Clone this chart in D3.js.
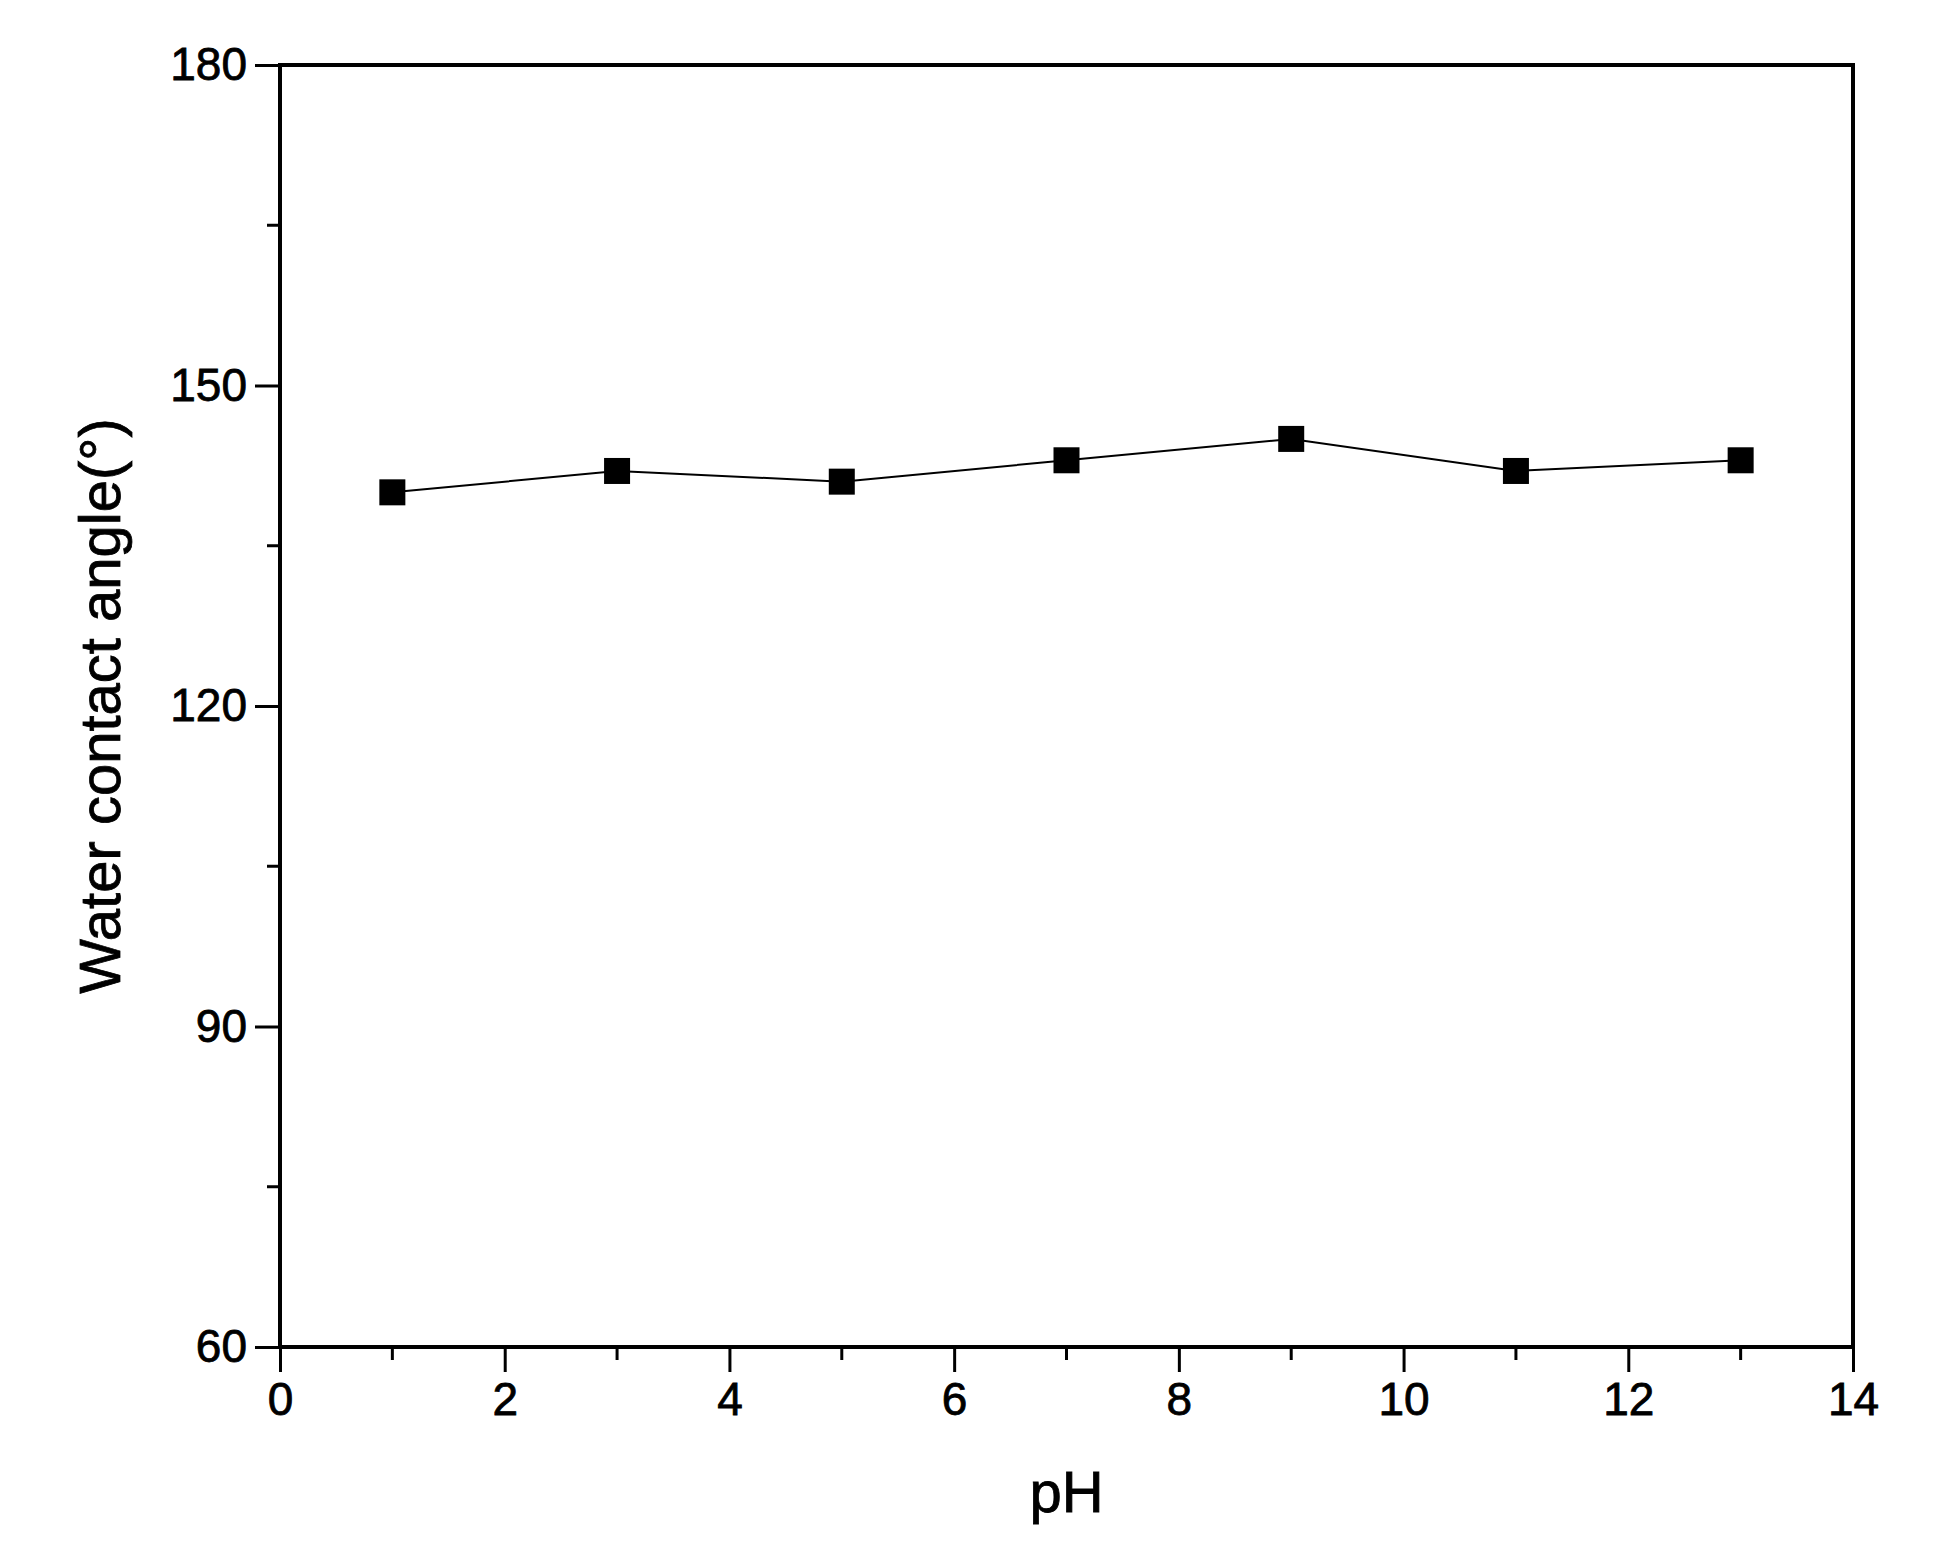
<!DOCTYPE html>
<html><head><meta charset="utf-8">
<script src="https://cdn.jsdelivr.net/npm/d3@7"></script>
<style>body{margin:0;background:#fff}</style>
</head><body>
<svg id="chart" width="1948" height="1550"></svg>
<script>
const phValues = [1, 3, 5, 7, 9, 11, 13];
const contactAngles = [140, 142, 141, 143, 145, 142, 143];
const xTicks = [0, 2, 4, 6, 8, 10, 12, 14];
const yTicks = [60, 90, 120, 150, 180];

const margin = {left: 280, right: 1948 - 1853, top: 65, bottom: 1550 - 1347};
const svg = d3.select("#chart");
const w = 1948 - margin.left - margin.right;
const h = 1550 - margin.top - margin.bottom;
const font = "Liberation Sans, Arial, sans-serif";

const x = d3.scaleLinear().domain([0, 14]).range([0, w]);
const y = d3.scaleLinear().domain([60, 180]).range([h, 0]);

const g = svg.append("g").attr("transform", `translate(${margin.left},${margin.top})`);

// minor ticks
const xMinor = d3.range(1, 14, 2);
const yMinor = d3.range(75, 180, 30);
g.append("g").selectAll("line").data(xMinor).join("line")
  .attr("x1", d => x(d)).attr("x2", d => x(d)).attr("y1", h).attr("y2", h + 13)
  .attr("stroke", "#000").attr("stroke-width", 3);
g.append("g").selectAll("line").data(yMinor).join("line")
  .attr("y1", d => y(d)).attr("y2", d => y(d)).attr("x1", 0).attr("x2", -13)
  .attr("stroke", "#000").attr("stroke-width", 3);

const xAxis = g.append("g").attr("transform", `translate(0,${h})`)
  .call(d3.axisBottom(x).tickValues(xTicks).tickSize(25).tickPadding(10));
const yAxis = g.append("g")
  .call(d3.axisLeft(y).tickValues(yTicks).tickSize(25).tickPadding(8));
[xAxis, yAxis].forEach(a => {
  a.select(".domain").remove();
  a.selectAll("line").attr("stroke", "#000").attr("stroke-width", 3);
  a.selectAll("text").attr("font-family", font).attr("font-size", 46)
    .attr("fill", "#000").attr("stroke", "#000").attr("stroke-width", 0.8);
});

// frame
g.append("rect").attr("width", w).attr("height", h)
  .attr("fill", "none").attr("stroke", "#000").attr("stroke-width", 4);

const pts = phValues.map((p, i) => [p, contactAngles[i]]);
g.append("path").datum(pts)
  .attr("d", d3.line().x(d => x(d[0])).y(d => y(d[1])))
  .attr("fill", "none").attr("stroke", "#000").attr("stroke-width", 2);
g.selectAll(".pt").data(pts).join("rect")
  .attr("x", d => x(d[0]) - 13).attr("y", d => y(d[1]) - 13)
  .attr("width", 26).attr("height", 26).attr("fill", "#000");

svg.append("text").attr("x", margin.left + w / 2).attr("y", 1512)
  .attr("text-anchor", "middle").attr("font-family", font).attr("font-size", 58)
  .attr("stroke", "#000").attr("stroke-width", 0.8)
  .text("pH");
svg.append("text")
  .attr("transform", `translate(120,${margin.top + h / 2}) rotate(-90)`)
  .attr("text-anchor", "middle").attr("font-family", font).attr("font-size", 58)
  .attr("stroke", "#000").attr("stroke-width", 0.8)
  .text("Water contact angle(°)");
</script>
</body></html>
